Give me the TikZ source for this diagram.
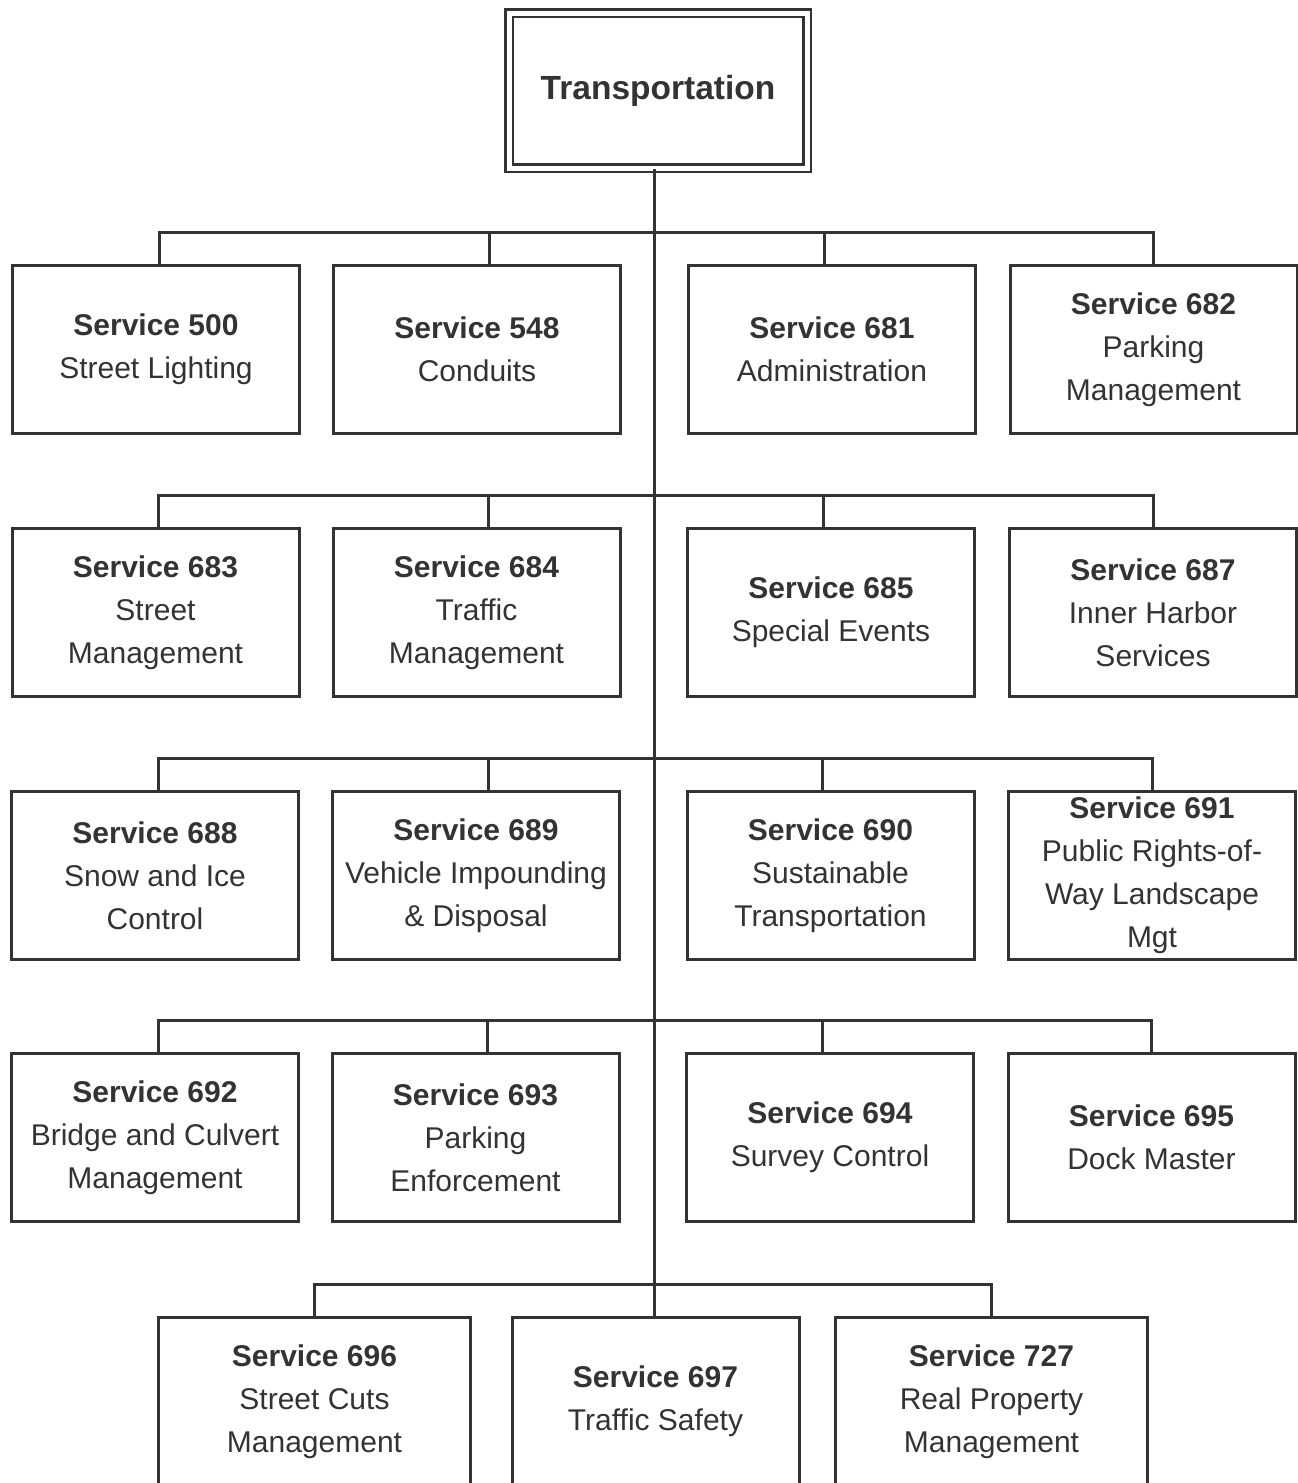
\documentclass[tikz,border=0pt]{standalone}
\usepackage{fontspec}
\setmainfont{Liberation Sans}
\definecolor{ink}{HTML}{333333}
\tikzset{
  svc/.style={draw=ink, line width=3pt, text=ink, minimum width=287pt, minimum height=168pt,
    align=center, inner sep=0pt, font=\fontsize{30}{43}\selectfont},
  wide/.style={svc, minimum width=312pt},
  head/.style={draw=ink, line width=2.5pt, double, double distance=5pt, text=ink,
    minimum width=298pt, minimum height=155pt, inner sep=0pt, font=\fontsize{33.5}{40}\selectfont\bfseries},
  link/.style={draw=ink, line width=3pt}
}

\begin{document}
\begin{tikzpicture}[x=1pt,y=-1pt]
\clip (0,0) rectangle (1298,1483);
\fill[white] (0,0) rectangle (1298,1483);

\node[head] (top) at (658,90.5) {Transportation};

\node[svc] (s500) at (156,349.5)  {\textbf{Service 500}\\Street Lighting};
\node[svc] (s548) at (477,349.5)  {\textbf{Service 548}\\Conduits};
\node[svc] (s681) at (832,349.5)  {\textbf{Service 681}\\Administration};
\node[svc] (s682) at (1153.5,349.5) {\textbf{Service 682}\\Parking\\Management};

\node[svc] (s683) at (155.5,612.5) {\textbf{Service 683}\\Street\\Management};
\node[svc] (s684) at (476.5,612.5) {\textbf{Service 684}\\Traffic\\Management};
\node[svc] (s685) at (831,612.5)   {\textbf{Service 685}\\Special Events};
\node[svc] (s687) at (1153,612.5)  {\textbf{Service 687}\\Inner Harbor\\Services};

\node[svc] (s688) at (155,875.5)   {\textbf{Service 688}\\Snow and Ice\\Control};
\node[svc] (s689) at (476,875.5)   {\textbf{Service 689}\\Vehicle Impounding\\\& Disposal};
\node[svc] (s690) at (830.5,875.5) {\textbf{Service 690}\\Sustainable\\Transportation};
\node[svc] (s691) at (1152,875.5)  {\textbf{Service 691}\\Public Rights-of-\\Way Landscape\\Mgt};

\node[svc] (s692) at (155,1137.5)   {\textbf{Service 692}\\Bridge and Culvert\\Management};
\node[svc] (s693) at (475.5,1137.5) {\textbf{Service 693}\\Parking\\Enforcement};
\node[svc] (s694) at (830,1137.5)   {\textbf{Service 694}\\Survey Control};
\node[svc] (s695) at (1151.5,1137.5) {\textbf{Service 695}\\Dock Master};

\node[wide] (s696) at (314.5,1401.5) {\textbf{Service 696}\\Street Cuts\\Management};
\node[svc]  (s697) at (655.5,1401.5) {\textbf{Service 697}\\Traffic Safety};
\node[wide] (s727) at (991.5,1401.5) {\textbf{Service 727}\\Real Property\\Management};

\coordinate (bus1) at (654,232);
\coordinate (bus2) at (654,495);
\coordinate (bus3) at (654,758);
\coordinate (bus4) at (654,1020);
\coordinate (bus5) at (654,1284);

\draw[link] (top.south -| bus1) -- (s697.north -| bus1);

\draw[link] ([xshift=3pt]s500.north) |- (bus1) -| (s682.north);
\draw[link] ([xshift=12pt]s548.north) -- ([xshift=12pt]s548.north |- bus1);
\draw[link] ([xshift=-8pt]s681.north) -- ([xshift=-8pt]s681.north |- bus1);

\draw[link] ([xshift=3pt]s683.north) |- (bus2) -| (s687.north);
\draw[link] ([xshift=12pt]s684.north) -- ([xshift=12pt]s684.north |- bus2);
\draw[link] ([xshift=-8pt]s685.north) -- ([xshift=-8pt]s685.north |- bus2);

\draw[link] ([xshift=3pt]s688.north) |- (bus3) -| (s691.north);
\draw[link] ([xshift=12pt]s689.north) -- ([xshift=12pt]s689.north |- bus3);
\draw[link] ([xshift=-8pt]s690.north) -- ([xshift=-8pt]s690.north |- bus3);

\draw[link] ([xshift=3pt]s692.north) |- (bus4) -| (s695.north);
\draw[link] ([xshift=12pt]s693.north) -- ([xshift=12pt]s693.north |- bus4);
\draw[link] ([xshift=-8pt]s694.north) -- ([xshift=-8pt]s694.north |- bus4);

\draw[link] (s696.north) |- (bus5) -| (s727.north);
\end{tikzpicture}
\end{document}
